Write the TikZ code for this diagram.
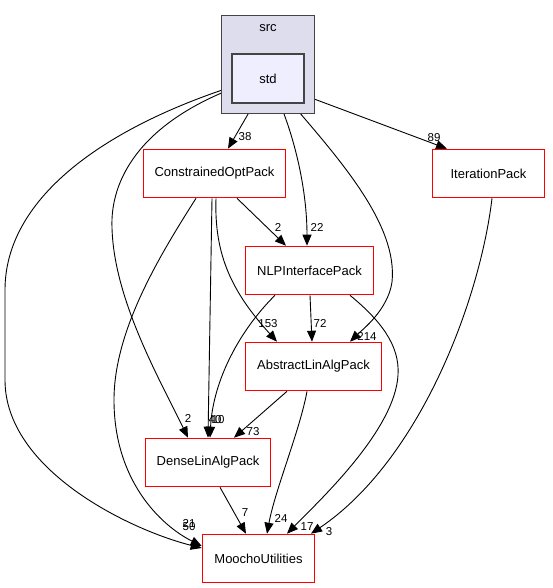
\documentclass[tikz,border=0pt]{standalone}
\usepackage{fontspec}
\setmainfont{Liberation Sans}
\usetikzlibrary{arrows.meta}
\definecolor{clfill}{HTML}{DDDDEE}
\definecolor{stdfill}{HTML}{EEEEFF}
\definecolor{clborder}{HTML}{444444}
\pgfdeclarelayer{edgelayer}
\pgfsetlayers{edgelayer,main}
\begin{document}
\begin{tikzpicture}[x=1pt,y=-1pt,
  pkg/.style={draw=red, fill=white, line width=1.6pt, minimum width=#1, minimum height=48pt, inner sep=0pt, font=\fontsize{13}{15}\selectfont},
  edge/.style={draw=black, line width=0.9pt, -{Triangle[length=11pt,width=9pt]}},
  lbl/.style={font=\fontsize{11.5}{13}\selectfont, inner sep=0pt}
]
\useasboundingbox (0,0) rectangle (552,588);
% cluster
\node[draw=clborder, fill=clfill, line width=1.2pt, minimum width=93pt, minimum height=98pt, inner sep=0pt] (src) at (268,64.5) {};
\node[font=\fontsize{13}{15}\selectfont, inner sep=0pt] (srclbl) at (268,28) {src};
\node[draw=clborder, fill=stdfill, line width=1.6pt, minimum width=72pt, minimum height=49pt, inner sep=0pt, font=\fontsize{13}{15}\selectfont] (std) at (268,78.5) {std};
% packages
\node[pkg=142pt] (cop) at (214.5,173.5) {ConstrainedOptPack};
\node[pkg=112pt] (ip) at (488.5,173.5) {IterationPack};
\node[pkg=128pt] (nlp) at (309.5,270.5) {NLPInterfacePack};
\node[pkg=136pt] (ala) at (313.5,366.5) {AbstractLinAlgPack};
\node[pkg=125pt] (dla) at (208,462.5) {DenseLinAlgPack};
\node[pkg=112pt] (mu) at (258.5,558.5) {MoochoUtilities};
\begin{pgfonlayer}{edgelayer}
\fill[white] (0,0) rectangle (552,588);
% edges
\draw[edge] ([xshift=-14pt]std.south) -- ([xshift=13.5pt]cop.north);
\draw[edge] ([xshift=12pt]std.south) .. controls (295,140) and (307,190) .. ([xshift=-2.5pt]nlp.north);
\draw[edge] ([xshift=24pt]std.south) .. controls (340,160) and (398,225) .. (392,282) .. controls (388,310) and (362,330) .. ([xshift=36.5pt]ala.north);
\draw[edge] ([yshift=-17pt]std.east) -- ([xshift=-41.5pt]ip.north);
\draw[edge] ([yshift=-10.5pt]std.west) .. controls (140,125) and (110,180) .. (112,228) .. controls (114,300) and (160,380) .. ([xshift=-20pt]dla.north);
\draw[edge] ([yshift=-8.5pt]std.west) .. controls (100,130) and (5,200) .. (5,290) -- (5,380) .. controls (5,470) and (130,530) .. ([yshift=10.5pt]mu.west);
\draw[edge] ([xshift=22.5pt]cop.south) -- ([xshift=-23.5pt]nlp.north);
\draw[edge] ([xshift=-2.5pt]cop.south) -- ([xshift=0pt]dla.north);
\draw[edge] ([xshift=1.5pt]cop.south) .. controls (214,255) and (232,292) .. ([xshift=-36.5pt]ala.north);
\draw[edge] ([xshift=-18.5pt]cop.south) .. controls (160,255) and (114,330) .. (114,400) .. controls (114,480) and (160,525) .. ([yshift=12.5pt]mu.west);
\draw[edge] ([xshift=-34.5pt]nlp.south) .. controls (240,330) and (213,380) .. ([xshift=2pt]dla.north);
\draw[edge] ([xshift=0.5pt]nlp.south) -- ([xshift=-1.5pt]ala.north);
\draw[edge] ([xshift=40.5pt]nlp.south) .. controls (380,320) and (400,345) .. (398,375) .. controls (395,430) and (320,500) .. ([xshift=28.5pt]mu.north);
\draw[edge] ([xshift=-26.5pt]ala.south) -- ([xshift=26pt]dla.north);
\draw[edge] ([xshift=-6.5pt]ala.south) .. controls (300,430) and (275,490) .. ([xshift=8.5pt]mu.north);
\draw[edge] ([xshift=3.5pt]ip.south) .. controls (480,300) and (420,460) .. ([xshift=52.5pt]mu.north);
\draw[edge] ([xshift=12pt]dla.south) -- ([xshift=-12.5pt]mu.north);
\end{pgfonlayer}
% labels
\node[lbl] (l38) at (245,137) {38};
\node[lbl] (l22) at (317,227) {22};
\node[lbl] (l214) at (367,336) {214};
\node[lbl] (l89) at (434,138) {89};
\node[lbl] (l2a) at (188,418) {2};
\node[lbl] (l50) at (189,527) {50};
\node[lbl] (l2b) at (278,227) {2};
\node[lbl] (l40) at (215,420) {40};
\node[lbl] (l153) at (268,324) {153};
\node[lbl] (l21) at (189,523) {21};
\node[lbl] (l10) at (218,420) {10};
\node[lbl] (l72) at (320,323) {72};
\node[lbl] (l17) at (307,527) {17};
\node[lbl] (l73) at (253,432) {73};
\node[lbl] (l24) at (281,518) {24};
\node[lbl] (l3) at (329,532) {3};
\node[lbl] (l7) at (245,513) {7};
\end{tikzpicture}
\end{document}
